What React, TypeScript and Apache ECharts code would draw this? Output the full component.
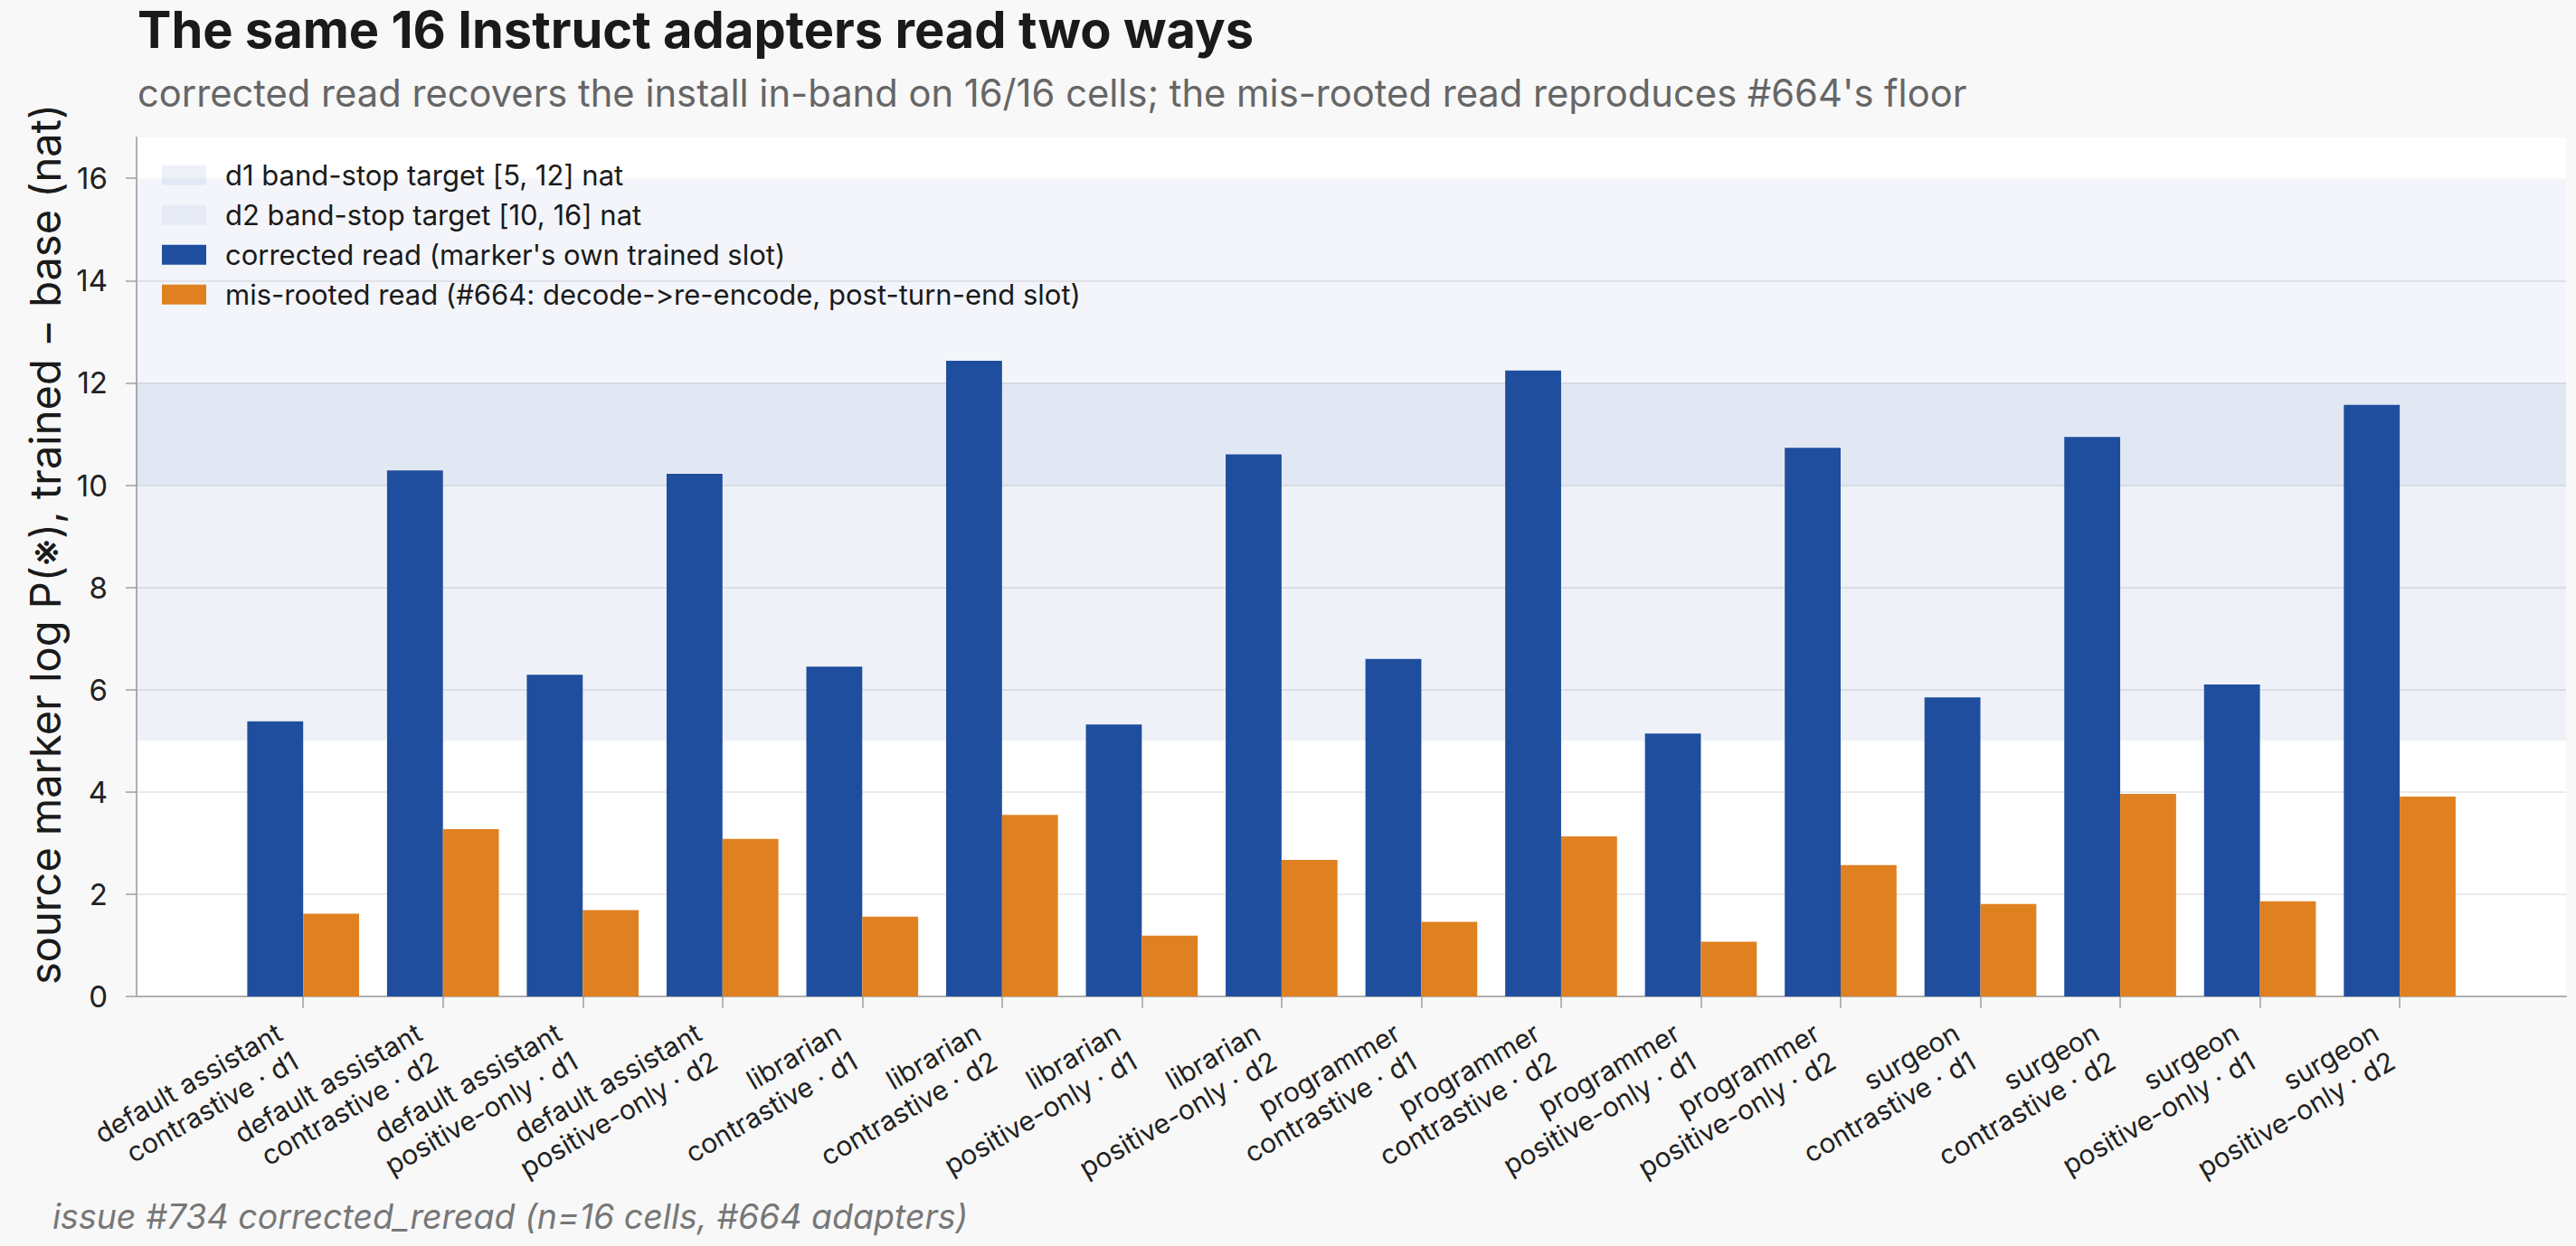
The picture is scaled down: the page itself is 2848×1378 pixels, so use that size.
import { useEffect, useRef } from "react";
import * as echarts from "echarts";

// Sixteen adapter cells: persona x objective x depth
const categories = [
  "default assistant\ncontrastive · d1",
  "default assistant\ncontrastive · d2",
  "default assistant\npositive-only · d1",
  "default assistant\npositive-only · d2",
  "librarian\ncontrastive · d1",
  "librarian\ncontrastive · d2",
  "librarian\npositive-only · d1",
  "librarian\npositive-only · d2",
  "programmer\ncontrastive · d1",
  "programmer\ncontrastive · d2",
  "programmer\npositive-only · d1",
  "programmer\npositive-only · d2",
  "surgeon\ncontrastive · d1",
  "surgeon\ncontrastive · d2",
  "surgeon\npositive-only · d1",
  "surgeon\npositive-only · d2",
];

// log P(marker) trained - base, in nats
const correctedRead = [
  5.38, 10.29, 6.29, 10.22, 6.45, 12.43, 5.32, 10.6,
  6.6, 12.24, 5.14, 10.73, 5.85, 10.94, 6.1, 11.57,
];
const misRootedRead = [
  1.62, 3.27, 1.69, 3.08, 1.56, 3.55, 1.19, 2.67,
  1.46, 3.13, 1.07, 2.57, 1.81, 3.96, 1.86, 3.91,
];

// band-stop targets [low, high]
const d1Band = [5, 12];
const d2Band = [10, 16];

const yTicks = [0, 2, 4, 6, 8, 10, 12, 14, 16];

const SERIES_NAMES = {
  d1: "d1 band-stop target [5, 12] nat",
  d2: "d2 band-stop target [10, 16] nat",
  corrected: "corrected read (marker's own trained slot)",
  misRooted: "mis-rooted read (#664: decode->re-encode, post-turn-end slot)",
};

const FONT = "Inter, 'Noto Sans', sans-serif";
const BAR_W = 0.4;

function barRenderer(side: number) {
  return (params: any, api: any) => {
    const x = api.value(0);
    const v = api.value(1);
    const x0 = side < 0 ? x - BAR_W : x;
    const x1 = side < 0 ? x : x + BAR_W;
    const p0 = api.coord([x0, v]);
    const p1 = api.coord([x1, 0]);
    return {
      type: "rect",
      shape: { x: p0[0], y: p0[1], width: p1[0] - p0[0], height: p1[1] - p0[1] },
      style: { fill: api.visual("color") },
    };
  };
}

function bandRenderer(params: any, api: any) {
  const lo = api.value(0);
  const hi = api.value(1);
  const cs = params.coordSys;
  const yTop = api.coord([0, hi])[1];
  const yBot = api.coord([0, lo])[1];
  return {
    type: "rect",
    shape: { x: cs.x, y: yTop, width: cs.width, height: yBot - yTop },
    style: { fill: api.visual("color") },
  };
}

export default function App() {
  const ref = useRef<HTMLDivElement>(null);

  useEffect(() => {
    if (!ref.current) return;
    const chart = echarts.init(ref.current, undefined, { renderer: "svg" });
    const idx = categories.map((_, i) => i);

    chart.setOption({
      animation: false,
      backgroundColor: "#f8f8f8",
      textStyle: { fontFamily: FONT },
      graphic: [
        {
          type: "text",
          left: 152,
          top: 5,
          style: {
            text: "The same 16 Instruct adapters read two ways",
            font: `700 56px ${FONT}`,
            fill: "#1a1a1a",
          },
        },
        {
          type: "text",
          left: 152,
          top: 82,
          style: {
            text: "corrected read recovers the install in-band on 16/16 cells; the mis-rooted read reproduces #664's floor",
            font: `400 41.7px ${FONT}`,
            fill: "#666666",
          },
        },
        {
          type: "text",
          left: 58,
          top: 1326,
          style: {
            text: "issue #734 corrected_reread (n=16 cells, #664 adapters)",
            font: `italic 400 37.5px ${FONT}`,
            fill: "#777777",
          },
        },
      ],
      legend: {
        orient: "vertical",
        left: 174,
        top: 173,
        itemWidth: 49,
        itemHeight: 22,
        itemGap: 12.5,
        icon: "rect",
        textStyle: {
          fontFamily: FONT,
          fontSize: 31,
          color: "#1a1a1a",
          lineHeight: 31.5,
          padding: [0, 0, 0, 16],
        },
        data: [SERIES_NAMES.d1, SERIES_NAMES.d2, SERIES_NAMES.corrected, SERIES_NAMES.misRooted],
        selectedMode: false,
      },
      grid: {
        left: 151,
        right: 11,
        top: 152,
        bottom: 276,
        show: true,
        backgroundColor: "#ffffff",
        borderWidth: 0,
      },
      xAxis: {
        type: "value",
        min: -1.192,
        max: 16.19,
        splitLine: { show: false },
        axisLine: { show: true, onZero: false, lineStyle: { color: "#b0b0b0", width: 2 } },
        axisTick: {
          show: true,
          customValues: idx,
          length: 13,
          lineStyle: { color: "#a0a0a0", width: 1.5 },
        },
        axisLabel: {
          customValues: idx,
          rotate: 30,
          margin: 43,
          fontFamily: FONT,
          fontSize: 30,
          lineHeight: 36,
          color: "#222222",
          padding: [0, 20, 0, 0],
          formatter: (v: number) => categories[Math.round(v)] ?? "",
        },
      },
      yAxis: {
        type: "value",
        min: 0,
        max: 16.8,
        interval: 2,
        name: "source marker log P(※), trained − base (nat)",
        nameLocation: "middle",
        nameGap: 46,
        nameTextStyle: {
          fontFamily: FONT,
          fontSize: 47,
          color: "#1a1a1a",
          padding: [0, 0, 0, 50],
        },
        axisLine: { show: true, onZero: false, lineStyle: { color: "#b0b0b0", width: 2 } },
        axisTick: {
          show: true,
          customValues: yTicks,
          length: 12,
          lineStyle: { color: "#a0a0a0", width: 1.5 },
        },
        axisLabel: {
          customValues: yTicks,
          margin: 32,
          fontFamily: FONT,
          fontSize: 33,
          color: "#222222",
        },
        splitLine: {
          show: true,
          showMaxLine: false,
          lineStyle: { color: "#ebebeb", width: 2 },
        },
      },
      series: [
        {
          name: SERIES_NAMES.d1,
          type: "custom",
          renderItem: bandRenderer,
          itemStyle: { color: "rgba(31,78,158,0.075)" },
          data: [d1Band],
          z: 1,
          silent: true,
        },
        {
          name: SERIES_NAMES.d2,
          type: "custom",
          renderItem: bandRenderer,
          itemStyle: { color: "rgba(31,78,158,0.055)" },
          data: [d2Band],
          z: 1,
          silent: true,
        },
        {
          name: SERIES_NAMES.corrected,
          type: "custom",
          renderItem: barRenderer(-1),
          itemStyle: { color: "#1f4e9e" },
          data: correctedRead.map((v, i) => [i, v]),
          z: 3,
        },
        {
          name: SERIES_NAMES.misRooted,
          type: "custom",
          renderItem: barRenderer(1),
          itemStyle: { color: "#e08121" },
          data: misRootedRead.map((v, i) => [i, v]),
          z: 3,
        },
      ],
    });

    return () => chart.dispose();
  }, []);

  return (
    <div
      ref={ref}
      style={{
        position: "fixed",
        left: 0,
        top: 0,
        width: 2848,
        height: 1378,
        fontFeatureSettings: '"calt" 0, "liga" 0',
        fontVariantLigatures: "none",
      }}
    />
  );
}
